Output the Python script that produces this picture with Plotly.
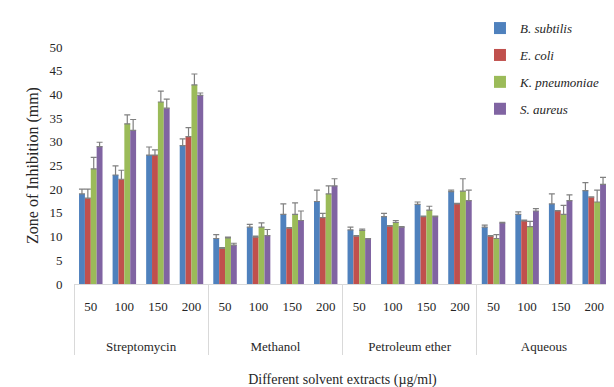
import plotly.graph_objects as go

groups = ["Streptomycin", "Methanol", "Petroleum ether", "Aqueous"]
doses = ["50", "100", "150", "200"]
series_names = ["B. subtilis", "E. coli", "K. pneumoniae", "S. aureus"]
colors = ["#4F81BD", "#C0504D", "#9BBB59", "#8064A2"]

b_subtilis = [19.0, 23.0, 27.2, 29.2, 9.6, 12.0, 14.7, 17.4, 11.4, 14.2, 16.8, 19.5, 12.0, 14.7, 16.9, 19.7]
e_coli = [18.1, 22.1, 27.2, 31.1, 7.5, 9.9, 11.8, 14.0, 10.1, 12.2, 14.2, 16.9, 10.1, 13.3, 15.4, 18.3]
k_pneumoniae = [24.3, 33.8, 38.4, 42.0, 9.7, 12.0, 14.7, 19.0, 11.3, 13.0, 15.6, 19.6, 9.6, 12.1, 14.7, 17.3]
s_aureus = [29.0, 32.4, 37.1, 39.8, 8.2, 10.2, 13.4, 20.7, 9.5, 12.0, 14.2, 17.6, 12.9, 15.4, 17.6, 21.0]

b_subtilis_err = [1.0, 1.9, 1.7, 1.4, 0.8, 0.6, 2.2, 2.4, 0.6, 0.7, 0.5, 0.3, 0.4, 0.5, 2.1, 1.7]
e_coli_err = [1.9, 1.9, 1.1, 1.9, 0.2, 0.2, 0.1, 0.9, 0.1, 0.1, 0.1, 0.1, 0.1, 0.2, 0.1, 0.1]
k_pneumoniae_err = [2.4, 1.9, 2.3, 2.3, 0.2, 0.9, 2.4, 1.7, 0.3, 0.4, 0.8, 2.6, 0.8, 1.1, 1.9, 2.5]
s_aureus_err = [0.9, 2.3, 1.9, 0.5, 0.4, 1.3, 2.0, 1.5, 0.1, 0.1, 0.1, 2.2, 0.1, 0.5, 1.2, 1.5]

values = [b_subtilis, e_coli, k_pneumoniae, s_aureus]
errors = [b_subtilis_err, e_coli_err, k_pneumoniae_err, s_aureus_err]

# group labels pushed down two lines, as in the reference
x_groups = ["<br><br>" + g for g in groups for _ in doses]
x_doses = [d for _ in groups for d in doses]

serif = "Liberation Serif, Times New Roman, serif"

fig = go.Figure()
for name, col, vals, errs in zip(series_names, colors, values, errors):
    fig.add_trace(go.Bar(
        x=[x_groups, x_doses], y=vals, name="<i>" + name + "</i>",
        marker=dict(color=col, line=dict(width=0)),
        legendgroup=name,
        error_y=dict(type="data", array=errs, arrayminus=[0] * len(errs),
                     symmetric=False, color="#808080", thickness=1.2, width=3),
    ))

# the page body has an 8px margin, so the figure is 8px smaller on each axis
fig.update_layout(
    width=606, height=379,
    margin=dict(l=66, r=3, t=39, b=103, autoexpand=False),
    paper_bgcolor="white", plot_bgcolor="white",
    barmode="group", bargap=0.3, bargroupgap=0.0,
    font=dict(family=serif, size=13, color="#262626"),
    legend=dict(x=0.756, y=1.143, xanchor="left", yanchor="top",
                font=dict(family=serif, size=13, color="#262626"),
                tracegroupgap=7, traceorder="grouped",
                itemwidth=30, bgcolor="rgba(0,0,0,0)"),
    xaxis=dict(type="multicategory", showgrid=False, showline=True,
               automargin=False,
               linecolor="#D9D9D9", linewidth=1, ticks="",
               ticklabelstandoff=10,
               showdividers=True, dividercolor="#D9D9D9", dividerwidth=1,
               tickfont=dict(family=serif, size=13, color="#262626"),
               title=dict(text="Different solvent extracts (µg/ml)",
                          font=dict(family=serif, size=14, color="#262626"),
                          standoff=20)),
    yaxis=dict(range=[0, 50], dtick=5, showgrid=False, showline=False,
               automargin=False,
               zeroline=False, ticks="outside", ticklen=8, tickcolor="rgba(255,255,255,0)",
               tickfont=dict(family=serif, size=13, color="#262626"),
               title=dict(text="Zone of Inhibition (mm)",
                          font=dict(family=serif, size=16, color="#262626"),
                          standoff=6)),
)

fig.write_html("out.html")
